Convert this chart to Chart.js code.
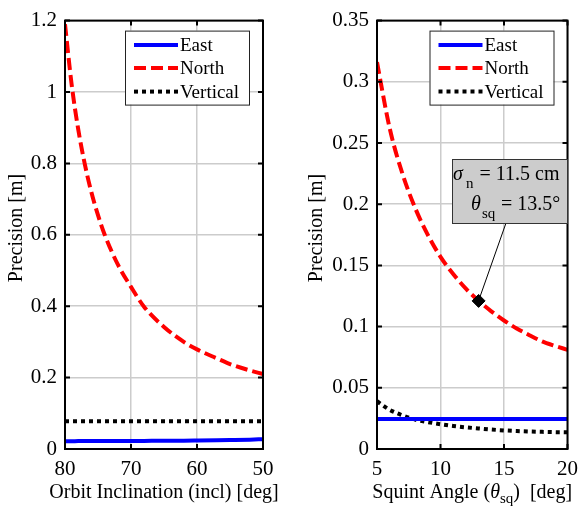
<!DOCTYPE html>
<html>
<head>
<meta charset="utf-8">
<script src="https://cdn.jsdelivr.net/npm/chart.js@4.4.0/dist/chart.umd.min.js"></script>
<style>
body { margin: 0; background: #fff; width: 586px; height: 506px; position: relative; overflow: hidden; }
canvas { position: absolute; top: 0; }
#incChart { left: 0; }
#sqChart { left: 290px; }
</style>
</head>
<body>
<canvas id="incChart" width="290" height="506"></canvas>
<canvas id="sqChart" width="296" height="506"></canvas>
<script>
// left panel: precision vs orbit inclination
const inclDeg   = [80, 79, 78, 77, 76, 75, 74, 72, 70, 68, 65, 62, 60, 57, 55, 52, 50];
const eastIncl  = [0.022, 0.022, 0.0221, 0.0221, 0.0221, 0.0222, 0.0222, 0.0223, 0.0225, 0.0227, 0.023, 0.0234, 0.0238, 0.0245, 0.0251, 0.0262, 0.0275];
const northIncl = [1.19, 1.022, 0.896, 0.798, 0.719, 0.655, 0.601, 0.517, 0.454, 0.398, 0.342, 0.300, 0.279, 0.254, 0.238, 0.220, 0.210];
const vertIncl  = [0.078, 0.078, 0.078, 0.078, 0.078, 0.078, 0.078, 0.078, 0.078, 0.078, 0.078, 0.078, 0.078, 0.078, 0.078, 0.078, 0.078];

// right panel: precision vs squint angle
const sqDeg   = [5, 6, 7, 8, 9, 10, 11, 12, 13, 14, 15, 16, 17, 18, 19, 20];
const eastSq  = [0.0245, 0.0245, 0.0245, 0.0245, 0.0245, 0.0245, 0.0245, 0.0245, 0.0245, 0.0245, 0.0245, 0.0245, 0.0245, 0.0245, 0.0245, 0.0245];
const northSq = [0.316, 0.262, 0.225, 0.197, 0.175, 0.157, 0.143, 0.131, 0.121, 0.1125, 0.105, 0.0985, 0.093, 0.088, 0.0843, 0.081];
const vertSq  = [0.039, 0.032, 0.0275, 0.024, 0.022, 0.0202, 0.0188, 0.0177, 0.0168, 0.0159, 0.0152, 0.0147, 0.0143, 0.014, 0.0138, 0.0136];
const markerSq   = [13];
const markerPrec = [0.121];

const seriesNames = ['East', 'North', 'Vertical'];
const inclTicks = [80, 70, 60, 50];
const precTicksLeft = [0, 0.2, 0.4, 0.6, 0.8, 1, 1.2];
const sqTicks = [5, 10, 15, 20];
const precTicksRight = [0, 0.05, 0.1, 0.15, 0.2, 0.25, 0.3, 0.35];

const SERIF = "'Liberation Serif', 'Times New Roman', serif";

function pts(xs, ys){
   return xs.map((x, i) => ({x: x, y: ys[i]}));
}

function lineSets(xs, east, north, vert){
   const common = { pointRadius: 0, borderWidth: 4, cubicInterpolationMode: 'monotone' };
   return [
      Object.assign({ label: seriesNames[0], data: pts(xs, east), borderColor: '#0000ff' }, common),
      Object.assign({ label: seriesNames[1], data: pts(xs, north), borderColor: '#ff0000', borderDash: [12, 5] }, common),
      Object.assign({ label: seriesNames[2], data: pts(xs, vert), borderColor: '#000000', borderDash: [4, 4] }, common)
   ];
}

// write a title made of pieces (font, text, baseline shift), centred on cx
function drawPieces(ctx, parts, cx, y){
   let total = 0;
   parts.forEach(p => { ctx.font = p[1]; total += ctx.measureText(p[0]).width; });
   let x = cx - total / 2;
   parts.forEach(p => {
      ctx.font = p[1];
      ctx.fillText(p[0], x, y + p[2]);
      x += ctx.measureText(p[0]).width;
   });
}

// box, inward ticks, legend and axis titles, drawn on top like matlab does
const framePlugin = {
   id: 'frame',
   afterDraw(chart, args, opts){
      const ctx = chart.ctx;
      const a = chart.chartArea;
      const xs = chart.scales.x, ys = chart.scales.y;
      ctx.save();
      ctx.strokeStyle = '#000';
      ctx.lineWidth = 2;
      ctx.beginPath();
      xs.ticks.forEach(t => {
         const px = xs.getPixelForValue(t.value);
         ctx.moveTo(px, a.bottom); ctx.lineTo(px, a.bottom - 5);
         ctx.moveTo(px, a.top); ctx.lineTo(px, a.top + 5);
      });
      ys.ticks.forEach(t => {
         const py = ys.getPixelForValue(t.value);
         ctx.moveTo(a.left, py); ctx.lineTo(a.left + 5, py);
         ctx.moveTo(a.right, py); ctx.lineTo(a.right - 5, py);
      });
      ctx.stroke();
      ctx.strokeRect(a.left, a.top, a.right - a.left, a.bottom - a.top);

      // legend
      const bw = 124, bh = 74;
      const bx = a.right - 14 - bw, by = a.top + 10;
      ctx.fillStyle = '#fff';
      ctx.fillRect(bx, by, bw, bh);
      ctx.strokeStyle = '#222';
      ctx.lineWidth = 1;
      ctx.strokeRect(bx + 0.5, by + 0.5, bw, bh);
      const rows = [14.5, 37.5, 61];
      chart.data.datasets.filter(d => seriesNames.includes(d.label)).forEach((d, i) => {
         const yy = by + rows[i];
         ctx.beginPath();
         ctx.strokeStyle = d.borderColor;
         ctx.lineWidth = d.borderWidth;
         ctx.setLineDash(d.borderDash || []);
         ctx.moveTo(bx + 9, yy); ctx.lineTo(bx + 53, yy);
         ctx.stroke();
         ctx.setLineDash([]);
         ctx.fillStyle = '#000';
         ctx.font = '19px ' + SERIF;
         ctx.textBaseline = 'middle';
         ctx.textAlign = 'left';
         ctx.fillText(d.label, bx + 55, yy + 1);
      });

      // axis titles
      ctx.fillStyle = '#000';
      ctx.textBaseline = 'alphabetic';
      ctx.textAlign = 'left';
      drawPieces(ctx, opts.xtitle, (a.left + a.right) / 2, 498);
      ctx.save();
      ctx.translate(opts.ytitleX, 228);
      ctx.rotate(-Math.PI / 2);
      drawPieces(ctx, [['Precision [m]', '20px ' + SERIF, 0]], 0, 0);
      ctx.restore();
      ctx.restore();
   }
};

// annotation box for the squint panel
const noteBox = {
   id: 'noteBox',
   afterDraw(chart){
      const ctx = chart.ctx;
      const xs = chart.scales.x, ys = chart.scales.y;
      ctx.save();
      const mx = xs.getPixelForValue(markerSq[0]), my = ys.getPixelForValue(markerPrec[0]);
      const bx = 162, by = 159, bw = 115, bh = 64;
      ctx.strokeStyle = '#000';
      ctx.lineWidth = 1;
      ctx.beginPath();
      ctx.moveTo(216, by + bh);
      ctx.lineTo(mx + 1, my - 3);
      ctx.stroke();
      ctx.fillStyle = '#cccccc';
      ctx.fillRect(bx, by, bw, bh);
      ctx.strokeStyle = '#333';
      ctx.strokeRect(bx + 0.5, by + 0.5, bw, bh);

      ctx.fillStyle = '#000';
      ctx.textBaseline = 'alphabetic';
      ctx.textAlign = 'left';
      ctx.font = 'italic 20px ' + SERIF;
      ctx.fillText('\u03c3', bx + 1, by + 21);
      ctx.font = '15px ' + SERIF;
      ctx.fillText('n', bx + 14, by + 29);
      ctx.font = '20px ' + SERIF;
      ctx.fillText('= 11.5 cm', bx + 27.5, by + 21);
      ctx.font = 'italic 20px ' + SERIF;
      ctx.fillText('\u03b8', bx + 19, by + 51);
      ctx.font = '15px ' + SERIF;
      ctx.fillText('sq', bx + 30, by + 59);
      ctx.font = '20px ' + SERIF;
      ctx.fillText('= 13.5\u00b0', bx + 49, by + 51);
      ctx.restore();
   }
};

function makeOptions(cfg){
   return {
      responsive: false,
      animation: false,
      layout: { padding: { top: cfg.top, right: cfg.right, left: 0, bottom: 0 } },
      plugins: {
         legend: { display: false },
         tooltip: { enabled: false },
         frame: { xtitle: cfg.xtitle, ytitleX: cfg.ytitleX }
      },
      scales: {
         x: {
            type: 'linear',
            min: cfg.xmin, max: cfg.xmax, reverse: cfg.reverse,
            afterFit: s => { s.height = 57; },
            afterBuildTicks: s => { s.ticks = cfg.xticks.map(v => ({value: v})); },
            grid: { color: '#cccccc', lineWidth: 1.5, drawTicks: false },
            border: { display: false },
            ticks: { color: '#000', font: { family: SERIF, size: 21 }, padding: 8, maxRotation: 0 }
         },
         y: {
            min: 0, max: cfg.ymax,
            afterFit: s => { s.width = cfg.yw; },
            afterBuildTicks: s => { s.ticks = cfg.yticks.map(v => ({value: v})); },
            grid: { color: '#cccccc', lineWidth: 1.5, drawTicks: false },
            border: { display: false },
            ticks: { color: '#000', font: { family: SERIF, size: 21 }, padding: 8, callback: v => String(Number(v.toFixed(2))) }
         }
      }
   };
}

new Chart(document.getElementById('incChart').getContext('2d'), {
   type: 'line',
   data: { datasets: lineSets(inclDeg, eastIncl, northIncl, vertIncl) },
   options: makeOptions({ top: 15, right: 27, xmin: 50, xmax: 80, reverse: true, xticks: inclTicks, yticks: precTicksLeft, ymax: 1.2, yw: 65, ytitleX: 22,
      xtitle: [['Orbit Inclination (incl) [deg]', '20px ' + SERIF, 0]] }),
   plugins: [framePlugin]
});

const sqSets = lineSets(sqDeg, eastSq, northSq, vertSq);
sqSets.unshift({ label: 'marker', data: pts(markerSq, markerPrec), showLine: false, pointStyle: 'rectRot', pointRadius: 6.5, borderWidth: 1, backgroundColor: '#000', borderColor: '#000' });

new Chart(document.getElementById('sqChart').getContext('2d'), {
   type: 'line',
   data: { datasets: sqSets },
   options: makeOptions({ top: 13, right: 12, xmin: 5, xmax: 20, reverse: false, xticks: sqTicks, yticks: precTicksRight, ymax: 0.35, yw: 87, ytitleX: 32,
      xtitle: [
         ['Squint Angle (', '20px ' + SERIF, 0],
         ['\u03b8', 'italic 20px ' + SERIF, 0],
         ['sq', '15px ' + SERIF, 5],
         [')  [deg]', '20px ' + SERIF, 0]
      ] }),
   plugins: [framePlugin, noteBox]
});
</script>
</body>
</html>
